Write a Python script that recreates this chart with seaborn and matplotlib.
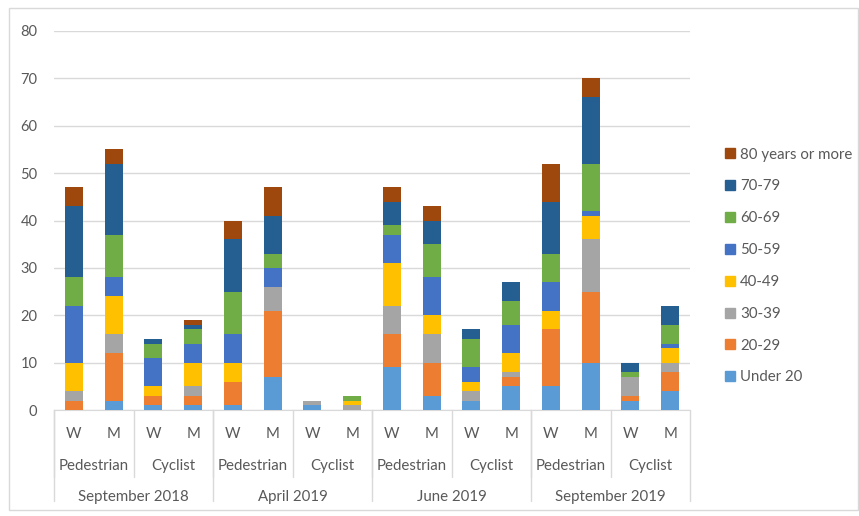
import matplotlib
matplotlib.use("Agg")
import matplotlib.pyplot as plt
import pandas as pd
import numpy as np
import seaborn as sns
from matplotlib.patches import Rectangle
from matplotlib.transforms import blended_transform_factory

# bar order: for each period -> Pedestrian W, M, Cyclist W, M
periods = ["September 2018", "April 2019", "June 2019", "September 2019"]
road_users = ["Pedestrian", "Cyclist"]
sexes = ["W", "M"]

age_groups = ["Under 20", "20-29", "30-39", "40-49", "50-59", "60-69", "70-79", "80 years or more"]
under_20 = [0, 2, 1, 1, 1, 7, 1, 0, 9, 3, 2, 5, 5, 10, 2, 4]
age_20_29 = [2, 10, 2, 2, 5, 14, 0, 0, 7, 7, 0, 2, 12, 15, 1, 4]
age_30_39 = [2, 4, 0, 2, 0, 5, 1, 1, 6, 6, 2, 1, 0, 11, 4, 2]
age_40_49 = [6, 8, 2, 5, 4, 0, 0, 1, 9, 4, 2, 4, 4, 5, 0, 3]
age_50_59 = [12, 4, 6, 4, 6, 4, 0, 0, 6, 8, 3, 6, 6, 1, 0, 1]
age_60_69 = [6, 9, 3, 3, 9, 3, 0, 1, 2, 7, 6, 5, 6, 10, 1, 4]
age_70_79 = [15, 15, 1, 1, 11, 8, 0, 0, 5, 5, 2, 4, 11, 14, 2, 4]
age_80_plus = [4, 3, 0, 1, 4, 6, 0, 0, 3, 3, 0, 0, 8, 4, 0, 0]

colors = ["#5B9BD5", "#ED7D31", "#A5A5A5", "#FFC000", "#4472C4", "#70AD47", "#255E91", "#9E480E"]

series = [under_20, age_20_29, age_30_39, age_40_49, age_50_59, age_60_69, age_70_79, age_80_plus]
df = pd.DataFrame(dict(zip(age_groups, series)))
df["bar"] = np.arange(len(df))
cum = df[age_groups].cumsum(axis=1)

sns.set_style("white")
plt.rcParams["font.family"] = ["Lato", "DejaVu Sans"]
text_color = "#595959"
grid_color = "#D9D9D9"

W, H = 859, 516
fig = plt.figure(figsize=(W / 100, H / 100), dpi=100)
x0, x1, y0, y1 = 54, 690, 410, 31
ax = fig.add_axes([x0 / W, (H - y0) / H, (x1 - x0) / W, (y0 - y1) / H])

# outer chart border
fig.patches.append(Rectangle((9 / W, 6 / H), 849 / W, 502 / H, transform=fig.transFigure,
                             fill=False, edgecolor=grid_color, linewidth=1))

# stacked bars: draw cumulative totals from top layer down
for i in range(len(age_groups) - 1, -1, -1):
    sns.barplot(x=df["bar"], y=cum[age_groups[i]], color=colors[i], saturation=1,
                width=0.45, linewidth=0, errorbar=None, ax=ax, zorder=3)

ax.set_ylim(0, 80)
ax.set_xlim(-0.5, len(df) - 0.5)
ax.set_yticks(range(0, 81, 10))
ax.yaxis.grid(True, color=grid_color, linewidth=1)
ax.set_axisbelow(True)
for s in ["top", "right", "left"]:
    ax.spines[s].set_visible(False)
ax.spines["bottom"].set_color(grid_color)
ax.tick_params(axis="y", length=0, pad=12, labelsize=10.5, labelcolor=text_color)
ax.set_xticks([])
ax.set_xlabel("")
ax.set_ylabel("")

# multi-level category labels
def frac(ypix):
    return (y0 - ypix) / (y0 - y1)

tr = blended_transform_factory(ax.transData, ax.transAxes)
n_per_period = len(road_users) * len(sexes)
for b in range(len(df)):
    ax.text(b, frac(434), sexes[b % 2], transform=tr, ha="center", va="center",
            fontsize=10.8, color=text_color, clip_on=False)
for g in range(len(periods) * len(road_users)):
    ax.text(2 * g + 0.5, frac(466), road_users[g % 2], transform=tr, ha="center",
            va="center", fontsize=10.8, color=text_color, clip_on=False)
    ax.plot([2 * g - 0.5] * 2, [0, frac(477)], transform=tr, color=grid_color,
            linewidth=1, clip_on=False)
for p, name in enumerate(periods):
    ax.text(p * n_per_period + 1.5, frac(497), name, transform=tr, ha="center",
            va="center", fontsize=10.8, color=text_color, clip_on=False)
for p in range(len(periods) + 1):
    ax.plot([p * n_per_period - 0.5] * 2, [0, frac(501)], transform=tr, color=grid_color,
            linewidth=1, clip_on=False)

# legend, reversed like the original
handles = [plt.Line2D([], [], marker="s", linestyle="", markersize=7, color=c) for c in colors]
leg = fig.legend(handles[::-1], age_groups[::-1], loc="upper left",
                 bbox_to_anchor=(710 / W, 1 - 134 / H), frameon=False,
                 fontsize=10.8, labelspacing=1.19, handlelength=0.8, handletextpad=0.3,
                 labelcolor=text_color)

fig.savefig("out.png", dpi=100)
